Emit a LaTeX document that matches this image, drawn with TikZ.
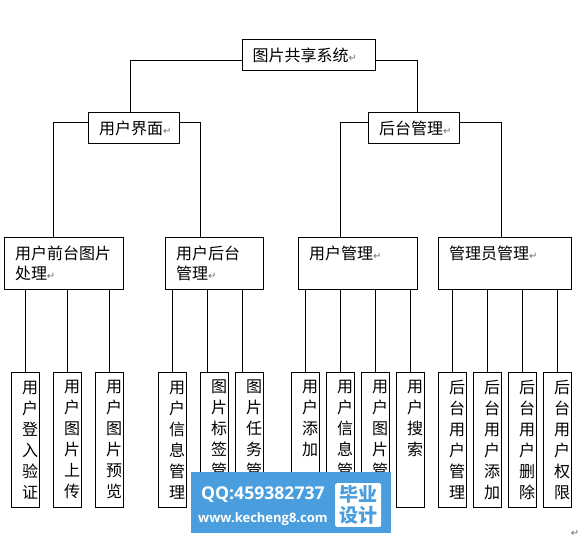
\documentclass[tikz,border=0pt]{standalone}
\usepackage{fontspec}
\setmainfont{Noto Sans CJK SC}
\newfontfamily\markfont{DejaVu Sans}
\newfontfamily\wmfont{Open Sans}
\usetikzlibrary{positioning}
\definecolor{cmark}{HTML}{707070}
\definecolor{cwater}{HTML}{4A9EDD}
\newcommand{\retmark}{{\markfont\fontsize{10}{10}\selectfont\textcolor{cmark}{↵}}}
\newcommand{\blankline}{\phantom{用}}
\tikzset{
  box/.style={draw, line width=1pt, outer sep=0pt, inner xsep=10.7pt, inner ysep=0pt, align=left, anchor=north west, text width=#1-21.4pt, font=\fontsize{16}{20}\selectfont},
  topbox/.style={box=#1, minimum height=31pt},
  midbox/.style={box=#1, minimum height=52pt},
  leaf/.style={draw, line width=1pt, outer sep=0pt, inner xsep=10.7pt, inner ysep=0pt, align=left, anchor=north west, text width=6.9pt, minimum height=135pt, font=\fontsize{16}{21}\selectfont},
  link/.style={line width=1pt},
  wmtext/.style={text=white, inner sep=0pt, anchor=west},
}

\begin{document}
\begin{tikzpicture}[x=1pt, y=-1pt]
  \useasboundingbox (0,0) rectangle (583,538);
  \node[topbox=133.6pt] (root) at (242,39.5) {图片共享系统\retmark};
  \node[topbox=91.3pt] (ui) at (88.3,112.5) {用户界面\retmark};
  \node[topbox=91.3pt] (admin) at (368.3,112.5) {后台管理\retmark};
  \node[midbox=119.3pt] (front) at (4.3,237.3) {用户前台图片\\处理\retmark};
  \node[midbox=98pt] (back) at (165.3,237.3) {用户后台\\管理\retmark};
  \node[midbox=119.4pt] (users) at (298.3,237.3) {用户管理\retmark\\\blankline};
  \node[midbox=133.4pt] (staff) at (438.3,237.3) {管理员管理\retmark\\\blankline};
  \draw[link] ([yshift=-5.3pt]root.west) -| ([xshift=-3.7pt]ui.north);
  \draw[link] ([yshift=-5.3pt]root.east) -| ([xshift=4pt]admin.north);
  \draw[link] ([yshift=5.6pt]ui.west) -| ([xshift=-10.6pt]front.north);
  \draw[link] ([yshift=5.6pt]ui.east) -| ([xshift=-14pt]back.north);
  \draw[link] ([yshift=5.6pt]admin.west) -| ([xshift=-17.7pt]users.north);
  \draw[link] ([yshift=5.6pt]admin.east) -| ([xshift=-3.7pt]staff.north);
  % leaves
  \node[leaf] (f1) at (11.3,372.3) {用\\户\\登\\入\\验\\证};
  \node[leaf, right=13.7pt of f1] (f2) {用\\户\\图\\片\\上\\传};
  \node[leaf, right=13.7pt of f2] (f3) {用\\户\\图\\片\\预\\览};
  \node[leaf] (b1) at (158.3,372.3) {用\\户\\信\\息\\管\\理};
  \node[leaf, right=13.7pt of b1] (b2) {图\\片\\标\\签\\管\\\blankline};
  \node[leaf, right=6.7pt of b2] (b3) {图\\片\\任\\务\\管\\\blankline};
  \node[leaf] (u1) at (291.3,372.3) {用\\户\\添\\加\\\blankline\\\blankline};
  \node[leaf, right=6.7pt of u1] (u2) {用\\户\\信\\息\\管\\\blankline};
  \node[leaf, right=6.7pt of u2] (u3) {用\\户\\图\\片\\管\\\blankline};
  \node[leaf, right=6.7pt of u3] (u4) {用\\户\\搜\\索\\\blankline\\\blankline};
  \node[leaf] (s1) at (438.3,372.3) {后\\台\\用\\户\\管\\理};
  \node[leaf, right=6.7pt of s1] (s2) {后\\台\\用\\户\\添\\加};
  \node[leaf, right=6.7pt of s2] (s3) {后\\台\\用\\户\\删\\除};
  \node[leaf, right=6.7pt of s3] (s4) {后\\台\\用\\户\\权\\限};
  \foreach \parent/\child/\dx in {front/f1/0, front/f2/0, front/f3/0, back/b1/0, back/b2/-7, back/b3/-7, users/u1/0, users/u2/0, users/u3/0, users/u4/0, staff/s1/0, staff/s2/0, staff/s3/0, staff/s4/0}
    \draw[link] ([xshift=\dx pt]\parent.south -| \child.north) -- ([xshift=\dx pt]\child.north);
  % watermark
  \node[fill=cwater, anchor=north west, minimum width=200pt, minimum height=60.7pt, inner sep=0pt, outer sep=0pt] (water) at (191,472) {};
  \node[fill=white, rounded corners=2pt, anchor=north west, minimum width=46pt, minimum height=43.7pt, inner sep=0pt, align=center, text=cwater, font=\bfseries\fontsize{19}{21}\selectfont] (tag) at (335,483) {毕业\\设计};
  \node[wmtext, font=\wmfont\bfseries\fontsize{17.6}{18}\selectfont] (qq) at (201,495) {QQ:459382737};
  \node[wmtext, font=\wmfont\bfseries\fontsize{13}{13}\selectfont] (web) at (198,519) {www.kecheng8.com};
  \node[inner sep=0pt] (end) at (575,533) {\retmark};
\end{tikzpicture}
\end{document}
